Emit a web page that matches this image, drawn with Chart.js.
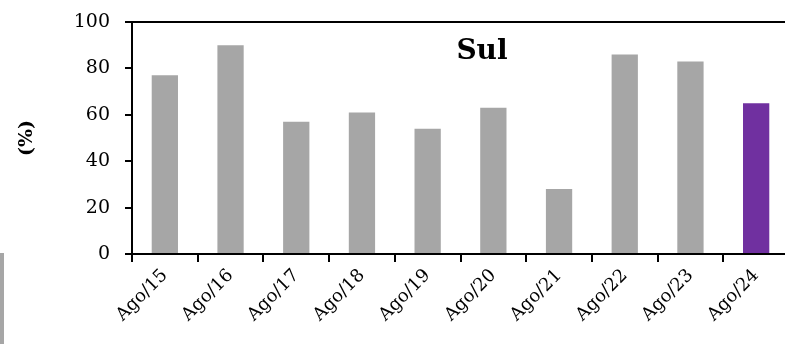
<!DOCTYPE html>
<html>
<head>
<meta charset="utf-8">
<script src="https://cdn.jsdelivr.net/npm/chart.js@4.4.1/dist/chart.umd.min.js"></script>
<style>
  html, body { margin: 0; padding: 0; background: #fff; overflow: hidden; }
  #wrap { position: relative; width: 800px; height: 344px; }
  #marca { position: absolute; left: 0; top: 253px; width: 4px; height: 91px; background: #a6a6a6; }
</style>
</head>
<body>
<div id="wrap">
  <canvas id="grafico" width="800" height="344"></canvas>
  <div id="marca"></div>
</div>
<script>
// Dados
const categorias = ['Ago/15', 'Ago/16', 'Ago/17', 'Ago/18', 'Ago/19', 'Ago/20', 'Ago/21', 'Ago/22', 'Ago/23', 'Ago/24'];
const valores = [77, 90, 57, 61, 54, 63, 28, 86, 83, 65];
const ticksY = [0, 20, 40, 60, 80, 100];

const cinza = '#a6a6a6';
const roxo = '#7030a0';
const coresBarras = valores.map((v, i) => i === valores.length - 1 ? roxo : cinza);

const fonteSerif = "'DejaVu Serif', 'Liberation Serif', serif";

// linha superior + título dentro da área
const extras = {
  id: 'extras',
  afterDraw(chart) {
    const { ctx, chartArea } = chart;
    ctx.save();
    ctx.strokeStyle = '#000';
    ctx.lineWidth = 2;
    ctx.beginPath();
    ctx.moveTo(chartArea.left - 7, chartArea.top);
    ctx.lineTo(chartArea.right, chartArea.top);
    ctx.stroke();
    ctx.fillStyle = '#000';
    ctx.font = "bold 28px " + fonteSerif;
    ctx.textAlign = 'center';
    ctx.textBaseline = 'middle';
    ctx.fillText('Sul', 482, 52);
    ctx.restore();
  }
};

new Chart(document.getElementById('grafico'), {
  type: 'bar',
  data: {
    labels: categorias,
    datasets: [{
      label: 'Sul',
      data: valores,
      backgroundColor: coresBarras,
      borderWidth: 0,
      categoryPercentage: 0.4,
      barPercentage: 1
    }]
  },
  options: {
    responsive: false,
    animation: false,
    layout: { padding: { top: 22, right: 11, left: 0, bottom: 0 } },
    plugins: {
      legend: { display: false },
      tooltip: { enabled: false }
    },
    scales: {
      x: {
        grid: {
          display: true,
          offset: true,
          drawOnChartArea: false,
          drawTicks: true,
          tickLength: 8,
          color: '#000',
          lineWidth: 2
        },
        border: { display: true, color: '#000', width: 2 },
        ticks: {
          color: '#000',
          font: { family: fonteSerif, size: 18 },
          maxRotation: 45,
          minRotation: 45,
          autoSkip: false,
          padding: 3
        },
        afterFit(scale) {
          scale.height = 90;
          scale.paddingLeft = 0;
          scale.paddingRight = 0;
        }
      },
      y: {
        min: 0,
        max: 100,
        afterBuildTicks(scale) { scale.ticks = ticksY.map(v => ({ value: v })); },
        grid: {
          display: true,
          drawOnChartArea: false,
          drawTicks: true,
          tickLength: 7,
          color: '#000',
          lineWidth: 2
        },
        border: { display: true, color: '#000', width: 2 },
        ticks: {
          color: '#000',
          font: { family: fonteSerif, size: 19 },
          padding: 15
        },
        title: {
          display: true,
          text: '(%)',
          color: '#000',
          font: { family: fonteSerif, size: 19, weight: 'bold' },
          padding: { top: 16, bottom: 0 }
        },
        afterFit(scale) {
          scale.width = 132;
          scale.paddingTop = 0;
          scale.paddingBottom = 0;
        }
      }
    }
  },
  plugins: [extras]
});
</script>
</body>
</html>
